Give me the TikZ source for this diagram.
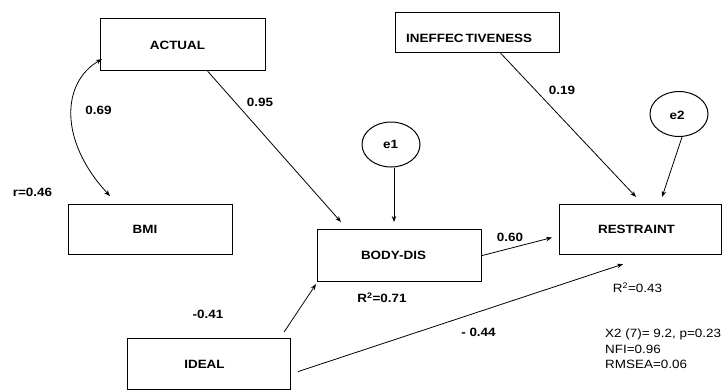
\documentclass[tikz,border=0pt]{standalone}
\usepackage{fontspec}
\setmainfont{Liberation Sans}[FakeStretch=1.12]
\usetikzlibrary{arrows.meta,shapes.geometric}
\begin{document}
\begin{tikzpicture}[x=1pt,y=-1pt,
  box/.style={draw=black,line width=1.1pt,minimum width=#1,inner sep=0pt,anchor=north west},
  lab/.style={font=\fontsize{12}{15.5}\selectfont\bfseries,inner sep=0pt},
  plain/.style={font=\fontsize{12}{15.5}\selectfont,inner sep=0pt},
  err/.style={draw=black,line width=1pt,ellipse,minimum width=58pt,minimum height=45pt,inner sep=0pt},
  conn/.style={line width=0.8pt,-{Stealth[length=6pt,width=4.5pt]}}]
\useasboundingbox (0,0) rectangle (722,391);
% boxes
\node[box=165pt,minimum height=52pt] (actual) at (100,18) {};
\node[box=164pt,minimum height=40pt] (ineff) at (395,12) {};
\node[box=164pt,minimum height=50pt] (bmi) at (68,204) {};
\node[box=163pt,minimum height=51pt] (ideal) at (127,338) {};
\node[box=164pt,minimum height=52pt] (body) at (317,229) {};
\node[box=162pt,minimum height=50pt] (restr) at (559,204) {};
% ellipses
\node[err] (e1) at (391,144.5) {};
\node[err] (e2) at (679,114) {};
% box texts
\node[lab] (tactual) at (177.5,45) {ACTUAL};
\node[lab,anchor=west] (tineff) at (406,38) {INEFFEC\kern2pt TIVENESS};
\node[lab] (tbmi) at (145,229) {BMI};
\node[lab] (tideal) at (204.5,364.5) {IDEAL};
\node[lab] (tbody) at (393.5,255) {BODY-DIS};
\node[lab] (trestr) at (636.5,229.5) {RESTRAINT};
\node[lab] (te1) at (390.5,144.5) {e1};
\node[lab] (te2) at (677,115) {e2};
% coefficient labels
\node[lab] (l69) at (98.5,110) {0.69};
\node[lab] (l95) at (260,102) {0.95};
\node[lab] (lr) at (32.5,192.5) {r=0.46};
\node[lab] (l19) at (562,90) {0.19};
\node[lab] (l60) at (510,237) {0.60};
\node[lab] (r71) at (382,298) {R\textsuperscript{2}=0.71};
\node[plain] (r43) at (637.5,287.5) {R\textsuperscript{2}=0.43};
\node[lab] (l41) at (208,314.5) {-0.41};
\node[lab] (l44) at (478.5,332.5) {- 0.44};
\node[plain,anchor=north west,align=left] (fit) at (605,329) {X2 (7)= 9.2, p=0.23\\NFI=0.96\\RMSEA=0.06};
% connectors
\draw[conn] ([xshift=24.5pt]actual.south) -- ([xshift=24pt,yshift=7pt]body.north west);
\draw[line width=0.8pt,{Stealth[length=6pt,width=4.5pt]}-{Stealth[length=6pt,width=4.5pt]}]
  ([xshift=42pt,yshift=8pt]bmi.north west) .. controls (58,140) and (62,82) .. ([xshift=2pt,yshift=12pt]actual.south west);
\draw[conn] ([xshift=3pt]e1.south) -- ([xshift=3pt,yshift=7pt]e1.south |- body.north);
\draw[conn] ([xshift=23pt]ineff.south) -- ([xshift=-4.5pt,yshift=7pt]restr.north);
\draw[conn] ([xshift=3pt]e2.south) -- ([xshift=21.5pt,yshift=7pt]restr.north);
\draw[conn] (body.east) -- ([xshift=-7pt,yshift=-8pt]restr.west);
\draw[conn] ([xshift=-7pt,yshift=6pt]ideal.north east) -- ([xshift=-1pt,yshift=-2pt]body.south west);
\draw[conn] ([xshift=7pt,yshift=-7.5pt]ideal.east) -- ([xshift=-17.5pt,yshift=-9pt]restr.south);
\end{tikzpicture}
\end{document}
